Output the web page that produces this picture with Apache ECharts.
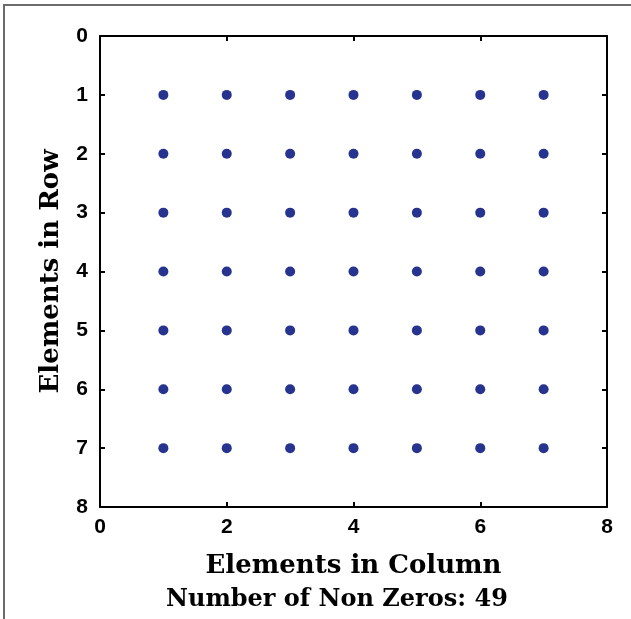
<!DOCTYPE html>
<html>
<head>
<meta charset="utf-8">
<script src="https://cdn.jsdelivr.net/npm/echarts@6/dist/echarts.min.js"></script>
<style>
  html, body { margin: 0; padding: 0; background: #fff; }
  #frame {
    position: absolute; left: 3px; top: 4px; width: 628px; height: 615px;
    border-left: 2px solid #6b6b6b; border-top: 2px solid #6b6b6b;
  }
  #chart { position: absolute; left: 0; top: 0; width: 631px; height: 619px; }
</style>
</head>
<body>
<div id="frame"></div>
<div id="chart"></div>
<script>
// matrix size and non-zero positions
const columnIndex = [1, 2, 3, 4, 5, 6, 7]
const rowIndex = [1, 2, 3, 4, 5, 6, 7]
const nonZeros = 49

const points = []
rowIndex.forEach(r => {
  columnIndex.forEach(c => points.push([c, r]))
})

const chart = echarts.init(document.getElementById('chart'))

const tickFont = {
  fontFamily: '"Liberation Sans Narrow", "Liberation Sans", sans-serif',
  fontWeight: 'bold',
  fontSize: 21,
  color: '#000'
}
const serif = '"DejaVu Serif", serif'
const lineStyle = { color: '#000', width: 2 }

chart.setOption({
  animation: false,
  grid: { left: 100, top: 36, width: 507, height: 471, show: false },
  title: {
    text: 'Number of Non Zeros: ' + nonZeros,
    left: 166,
    top: 588,
    padding: 0,
    textStyle: { fontFamily: serif, fontWeight: 'bold', fontSize: 24, color: '#000' }
  },
  xAxis: [
    {
      type: 'value', min: 0, max: 8, interval: 2, position: 'bottom',
      axisLine: { show: true, onZero: false, lineStyle },
      axisTick: { show: true, inside: true, length: 5, lineStyle },
      axisLabel: { ...tickFont, margin: 10 },
      splitLine: { show: false },
      name: 'Elements in Column', nameLocation: 'middle', nameGap: 46,
      nameTextStyle: { fontFamily: serif, fontWeight: 'bold', fontSize: 26, color: '#000' }
    },
    {
      type: 'value', min: 0, max: 8, interval: 2, position: 'top',
      axisLine: { show: true, onZero: false, lineStyle },
      axisTick: { show: true, inside: true, length: 5, lineStyle },
      axisLabel: { show: false },
      splitLine: { show: false }
    }
  ],
  yAxis: [
    {
      type: 'value', min: 0, max: 8, interval: 1, inverse: true, position: 'left',
      axisLine: { show: true, onZero: false, lineStyle },
      axisTick: { show: true, inside: true, length: 5, lineStyle },
      axisLabel: { ...tickFont, margin: 12 },
      splitLine: { show: false },
      name: 'Elements in Row', nameLocation: 'middle', nameGap: 36,
      nameTextStyle: { fontFamily: serif, fontWeight: 'bold', fontSize: 26, color: '#000' }
    },
    {
      type: 'value', min: 0, max: 8, interval: 1, inverse: true, position: 'right',
      axisLine: { show: true, onZero: false, lineStyle },
      axisTick: { show: true, inside: true, length: 5, lineStyle },
      axisLabel: { show: false },
      splitLine: { show: false }
    }
  ],
  series: [{
    type: 'scatter',
    data: points,
    symbol: 'circle',
    symbolSize: 10,
    itemStyle: { color: '#26338f', opacity: 1 }
  }]
})
</script>
</body>
</html>
